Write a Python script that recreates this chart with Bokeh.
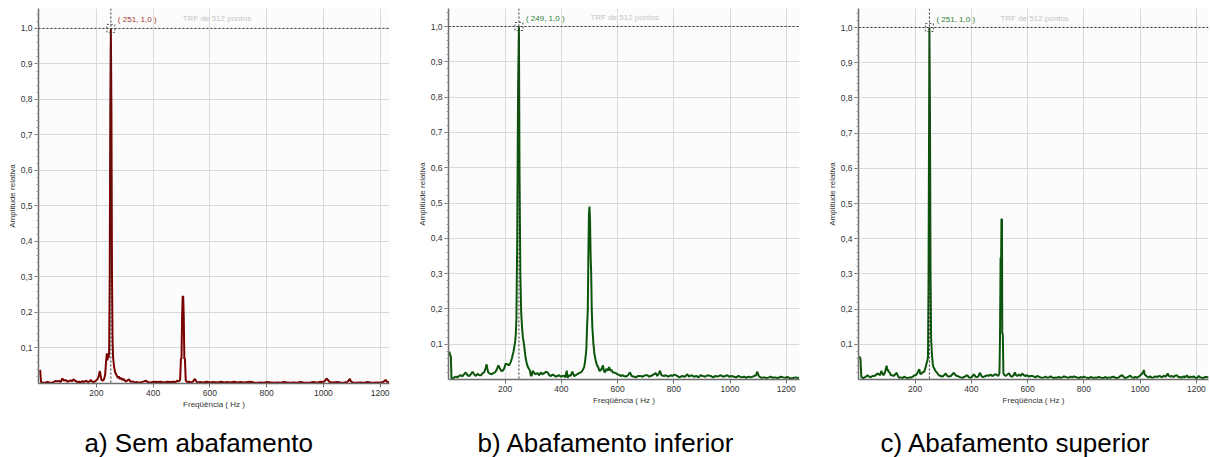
from bokeh.plotting import figure
from bokeh.models import FixedTicker, Span, Label, Title
from bokeh.layouts import row
from bokeh.embed import file_html
from bokeh.resources import INLINE

# ---------------- data ----------------
A_FREQ = [0, 2, 5, 10, 18, 27, 35, 45, 52, 57,
          63, 69, 75, 80, 86, 92, 98, 104, 110, 115,
          119, 125, 133, 140, 146, 151, 157, 163, 171, 176,
          180, 186, 192, 198, 204, 208, 212, 215, 218, 223,
          227, 231, 234, 237, 239, 241, 243, 245, 247, 249,
          251, 253, 255, 257, 259, 262, 265, 268, 272, 276,
          279, 283, 287, 292, 296, 300, 305, 310, 315, 320,
          327, 335, 344, 352, 360, 368, 375, 380, 390, 403,
          415, 427, 440, 450, 460, 473, 480, 485, 490, 495,
          498, 500, 502, 504, 506, 508, 510, 512, 515, 520,
          526, 535, 541, 547, 552, 556, 565, 575, 591, 600,
          612, 626, 640, 650, 661, 672, 685, 697, 708, 720,
          732, 743, 755, 768, 779, 790, 802, 815, 826, 837,
          850, 860, 872, 884, 896, 908, 919, 930, 943, 955,
          966, 978, 990, 1000, 1006, 1011, 1016, 1022, 1035, 1049,
          1060, 1072, 1084, 1089, 1093, 1097, 1103, 1115, 1131, 1145,
          1155, 1166, 1178, 1190, 1200, 1210, 1215, 1219, 1224, 1231]
A_AMP = [.038, .036, .004, .003, .002, .004, .003, .002, .005, .007,
         .006, .007, .005, .014, .008, .010, .005, .007, .009, .006,
         .012, .008, .004, .005, .003, .007, .004, .008, .004, .006,
         .010, .005, .004, .008, .012, .020, .035, .022, .010, .008,
         .012, .025, .060, .085, .065, .080, .072, .088, .300, .770,
         1.0, .770, .310, .120, .072, .050, .035, .028, .022, .015,
         .020, .012, .016, .010, .013, .008, .006, .009, .012, .005,
         .006, .003, .004, .002, .004, .006, .008, .004, .003, .005,
         .004, .005, .003, .005, .004, .005, .004, .008, .006, .010,
         .070, .070, .185, .245, .245, .185, .070, .070, .008, .004,
         .005, .003, .006, .013, .006, .003, .004, .003, .005, .003,
         .004, .003, .005, .003, .004, .003, .005, .003, .004, .003,
         .004, .005, .003, .002, .003, .002, .004, .003, .002, .003,
         .002, .004, .003, .002, .003, .002, .004, .003, .002, .003,
         .004, .002, .005, .004, .008, .014, .010, .004, .003, .004,
         .003, .002, .004, .008, .013, .006, .003, .002, .003, .002,
         .004, .003, .002, .003, .002, .004, .007, .010, .005, .003]

B_FREQ = [1, 4, 7, 9, 14, 19, 25, 30, 36, 42,
          48, 54, 60, 66, 72, 78, 84, 90, 96, 102,
          108, 114, 120, 125, 130, 134, 137, 140, 146, 152,
          158, 164, 170, 176, 182, 186, 190, 196, 202, 207,
          211, 214, 217, 220, 224, 227, 230, 232, 234, 236,
          238, 240, 243, 246, 249, 251, 254, 257, 260, 263,
          267, 270, 273, 277, 281, 285, 288, 291, 294, 298,
          302, 308, 315, 321, 327, 333, 339, 345, 351, 357,
          363, 369, 374, 380, 386, 392, 398, 404, 410, 414,
          419, 422, 428, 433, 439, 445, 451, 457, 463, 469,
          475, 481, 484, 487, 489, 491, 494, 496, 498, 500,
          502, 504, 506, 508, 510, 514, 518, 523, 527, 531,
          535, 538, 543, 548, 551, 555, 560, 565, 570, 574,
          578, 583, 587, 593, 599, 605, 611, 617, 623, 630,
          637, 644, 650, 659, 665, 672, 682, 690, 697, 706,
          712, 718, 724, 730, 736, 741, 746, 751, 756, 765,
          772, 780, 789, 795, 802, 812, 820, 830, 840, 848,
          854, 862, 872, 880, 888, 895, 903, 912, 920, 931,
          940, 948, 955, 967, 975, 983, 990, 997, 1005, 1014,
          1022, 1030, 1040, 1050, 1058, 1066, 1073, 1080, 1086, 1092,
          1097, 1102, 1110, 1121, 1130, 1138, 1144, 1152, 1160, 1170,
          1180, 1190, 1198, 1204, 1212, 1220, 1227, 1235, 1240, 1245]
B_AMP = [.079, .070, .065, .004, .003, .006, .008, .006, .010, .012,
         .009, .015, .020, .012, .010, .015, .022, .014, .010, .016,
         .012, .012, .018, .020, .030, .043, .030, .020, .016, .015,
         .018, .020, .028, .040, .030, .025, .024, .030, .045, .043,
         .042, .040, .045, .050, .060, .070, .080, .090, .100, .110,
         .130, .170, .400, .830, 1.0, .600, .300, .190, .150, .120,
         .100, .080, .060, .045, .035, .030, .025, .012, .010, .025,
         .020, .015, .018, .012, .020, .015, .018, .022, .020, .012,
         .010, .014, .012, .008, .010, .012, .008, .010, .011, .006,
         .025, .005, .012, .010, .022, .010, .012, .015, .018, .020,
         .025, .035, .050, .070, .090, .140, .200, .350, .470, .490,
         .450, .350, .300, .200, .150, .100, .070, .050, .040, .035,
         .025, .025, .030, .040, .025, .020, .030, .025, .035, .025,
         .028, .020, .020, .018, .015, .013, .010, .012, .010, .008,
         .012, .020, .010, .008, .006, .010, .010, .008, .012, .012,
         .008, .010, .012, .015, .018, .010, .016, .025, .012, .010,
         .012, .008, .012, .010, .014, .010, .006, .010, .008, .015,
         .008, .012, .008, .010, .006, .012, .010, .008, .012, .010,
         .006, .010, .008, .012, .008, .010, .012, .008, .010, .008,
         .006, .010, .006, .008, .005, .008, .006, .008, .010, .012,
         .022, .010, .005, .006, .004, .006, .008, .005, .006, .004,
         .008, .006, .005, .007, .004, .003, .005, .006, .004, .005]

C_FREQ = [1, 4, 6, 9, 14, 19, 25, 31, 37, 43,
          48, 54, 60, 66, 72, 76, 80, 84, 88, 92,
          96, 99, 102, 104, 107, 109, 114, 119, 124, 130,
          135, 139, 143, 150, 156, 161, 168, 174, 180, 185,
          192, 198, 203, 209, 215, 218, 220, 226, 232, 236,
          241, 244, 246, 248, 250, 251, 253, 255, 257, 260,
          263, 265, 269, 273, 279, 285, 291, 297, 303, 309,
          315, 321, 327, 333, 338, 344, 350, 356, 362, 368,
          374, 380, 386, 392, 397, 403, 409, 415, 421, 426,
          430, 435, 439, 445, 451, 457, 462, 468, 474, 480,
          486, 492, 496, 500, 502, 504, 506, 507, 509, 510,
          512, 514, 518, 522, 528, 534, 539, 545, 550, 555,
          559, 563, 569, 575, 581, 587, 593, 599, 605, 611,
          617, 623, 629, 634, 640, 646, 652, 658, 664, 670,
          676, 682, 688, 694, 700, 705, 711, 717, 723, 729,
          735, 741, 747, 753, 759, 764, 770, 776, 782, 788,
          794, 800, 806, 812, 818, 824, 830, 835, 841, 847,
          853, 859, 865, 871, 877, 883, 889, 895, 901, 906,
          912, 918, 924, 930, 936, 942, 948, 953, 959, 965,
          971, 977, 983, 989, 995, 1001, 1007, 1010, 1013, 1016,
          1019, 1025, 1031, 1036, 1042, 1048, 1054, 1060, 1066, 1072,
          1078, 1084, 1090, 1095, 1098, 1102, 1107, 1113, 1119, 1125,
          1131, 1137, 1143, 1149, 1155, 1160, 1166, 1172, 1178, 1184,
          1190, 1196, 1202, 1208, 1214, 1220, 1226, 1232, 1238, 1243]
C_AMP = [.063, .063, .060, .008, .004, .005, .008, .012, .008, .006,
         .010, .010, .012, .017, .015, .012, .024, .018, .012, .018,
         .030, .039, .025, .028, .020, .022, .012, .012, .010, .015,
         .019, .010, .005, .006, .004, .008, .005, .004, .006, .005,
         .008, .012, .012, .020, .029, .018, .015, .020, .022, .030,
         .046, .055, .065, .290, .770, 1.0, .770, .310, .120, .070,
         .045, .036, .030, .024, .018, .012, .010, .008, .012, .017,
         .010, .008, .010, .015, .019, .012, .010, .008, .006, .005,
         .007, .010, .012, .006, .005, .008, .015, .008, .007, .010,
         .019, .012, .007, .008, .010, .012, .010, .014, .010, .012,
         .015, .012, .010, .018, .120, .345, .345, .455, .455, .130,
         .130, .017, .012, .010, .014, .018, .010, .008, .012, .020,
         .012, .010, .014, .010, .017, .012, .010, .012, .008, .010,
         .010, .008, .006, .010, .008, .006, .005, .006, .008, .005,
         .006, .009, .006, .004, .006, .005, .007, .005, .006, .009,
         .007, .006, .005, .008, .006, .009, .007, .006, .004, .007,
         .005, .008, .006, .005, .004, .007, .006, .004, .006, .005,
         .007, .006, .004, .005, .007, .004, .006, .005, .007, .008,
         .005, .004, .006, .010, .012, .007, .004, .006, .008, .011,
         .006, .005, .007, .005, .008, .012, .017, .020, .027, .015,
         .012, .008, .006, .009, .005, .006, .009, .007, .010, .009,
         .006, .011, .008, .012, .017, .010, .008, .010, .007, .011,
         .012, .006, .007, .005, .009, .006, .012, .005, .008, .006,
         .009, .005, .004, .010, .006, .005, .004, .008, .006, .007]

PEAKS = [251, 249, 251]
CAPTIONS = ["a) Sem abafamento", "b) Abafamento inferior", "c) Abafamento superior"]
X_TICKS = [200, 400, 600, 800, 1000, 1200]
Y_TICKS = [0.1, 0.2, 0.3, 0.4, 0.5, 0.6, 0.7, 0.8, 0.9, 1.0]
Y_TICK_LABELS = ["0,1", "0,2", "0,3", "0,4", "0,5", "0,6", "0,7", "0,8", "0,9", "1,0"]
Y_MINOR = [i / 50 for i in range(1, 53)]

FONT = "Liberation Sans"


def panel(freq, amp, peak, caption, line_color, label_color,
          x_range, y_end, frame_w, frame_h, b_right, b_bottom,
          cap_offset, spacer_px):
    p = figure(frame_width=frame_w, frame_height=frame_h,
               x_range=x_range, y_range=(0, y_end),
               output_backend="svg", toolbar_location=None,
               min_border_left=38, min_border_right=b_right,
               min_border_top=8, min_border_bottom=b_bottom)
    p.background_fill_color = "#fcfcfc"
    p.border_fill_color = "white"
    p.outline_line_color = None

    p.xaxis.ticker = FixedTicker(ticks=X_TICKS, minor_ticks=[])
    p.yaxis.ticker = FixedTicker(ticks=Y_TICKS, minor_ticks=Y_MINOR)
    p.yaxis.major_label_overrides = dict(zip(Y_TICKS, Y_TICK_LABELS))

    for ax in (p.xaxis[0], p.yaxis[0]):
        ax.axis_line_color = "#6e6e6e"
        ax.axis_line_width = 1.5
        ax.major_tick_line_color = "#6e6e6e"
        ax.minor_tick_line_color = "#9a9a9a"
        ax.major_tick_out = 4
        ax.major_tick_in = 0
        ax.minor_tick_out = 2
        ax.minor_tick_in = 0
        ax.major_label_text_font = FONT
        ax.major_label_text_font_size = "8.5px"
        ax.major_label_text_color = "#333333"
        ax.axis_label_text_font = FONT
        ax.axis_label_text_font_size = "8px"
        ax.axis_label_text_font_style = "normal"
        ax.axis_label_text_color = "#333333"
        ax.major_label_standoff = 2
        ax.axis_label_standoff = 1
    p.xaxis.axis_label = "Freqüência ( Hz )"
    p.yaxis.axis_label = "Amplitude relativa"

    p.xgrid.grid_line_color = "#d9d9d9"
    p.ygrid.grid_line_color = "#d9d9d9"

    p.add_layout(Span(location=1.0, dimension="width", line_color="#333333",
                      line_dash="2 2", line_width=1))
    p.add_layout(Span(location=peak, dimension="height", line_color="#333333",
                      line_dash="2 2", line_width=1))

    p.line(freq, amp, line_color=line_color, line_width=2)

    p.scatter([peak], [1.0], marker="square", size=8, fill_alpha=0,
              line_color="#555555", line_dash="2 2", line_width=1)

    p.add_layout(Label(x=peak, y=1.0, x_offset=7, y_offset=4,
                       text=f"( {peak}, 1,0 )", text_font=FONT,
                       text_font_size="8px", text_color=label_color,
                       text_baseline="bottom"))
    p.add_layout(Label(x=625, y=1.0, y_offset=5, text="TRF de 512 pontos",
                       text_font=FONT, text_font_size="8px",
                       text_color="#c4c4c4", text_align="center",
                       text_baseline="bottom"))
    # spacer + caption under the chart
    p.add_layout(Title(text=" ", text_font=FONT,
                       text_font_size=f"{spacer_px}px", standoff=0), "below")
    p.add_layout(Title(text=caption, text_font=FONT, text_font_size="26px",
                       text_font_style="normal", text_color="black",
                       align="left", offset=cap_offset, standoff=0), "below")
    return p


pa = panel(A_FREQ, A_AMP, PEAKS[0], CAPTIONS[0], "#7a0000", "#a83232",
           (-4, 1233), 1.056, 351, 375, 21, 74, 46, 11)
pb = panel(B_FREQ, B_AMP, PEAKS[1], CAPTIONS[1], "#0c560c", "#2f7f2f",
           (-1.5, 1247), 1.051, 351, 371, 21, 78, 29, 14)
pc = panel(C_FREQ, C_AMP, PEAKS[2], CAPTIONS[2], "#0c560c", "#2f7f2f",
           (-1, 1243), 1.054, 350, 371, 2, 78, 22, 14)

layout = row(pa, pb, pc, spacing=0)
open("out.html", "w").write(file_html(layout, INLINE))
